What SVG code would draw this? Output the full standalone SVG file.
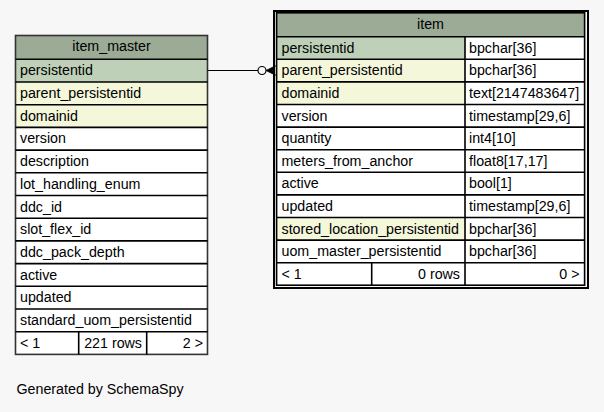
<svg xmlns="http://www.w3.org/2000/svg" width="604" height="412" viewBox="0 0 604 412">
<style>
text{font-family:"Liberation Sans",Arial,Helvetica,sans-serif;font-size:14.25px;fill:#000}
.hd{fill:#9bab96}.pk{fill:#bed1b8}.fk{fill:#f4f7da}.pl{fill:#ffffff}
.ln{stroke:#000;stroke-width:1.6;fill:none}
.mid{text-anchor:middle}.end{text-anchor:end}
</style>
<rect x="0" y="0" width="604" height="412" fill="#f7f7f7"/>
<g id="item_master">
<rect class="hd" x="15.5" y="35" width="192" height="24.3"/>
<rect class="pk" x="15.5" y="59.3" width="192" height="22.7"/>
<rect class="fk" x="15.5" y="82" width="192" height="45.4"/>
<rect class="pl" x="15.5" y="127.4" width="192" height="227"/>
<g class="ln">
<rect x="15.5" y="35.5" width="192" height="318.9" stroke="#333"/>
<path d="M15.5 59.3H207.5M15.5 82H207.5M15.5 104.7H207.5M15.5 127.4H207.5M15.5 150.1H207.5M15.5 172.8H207.5M15.5 195.5H207.5M15.5 218.2H207.5M15.5 240.9H207.5M15.5 263.6H207.5M15.5 286.3H207.5M15.5 309H207.5M15.5 331.7H207.5M78.7 331.7V354.4M146.7 331.7V354.4"/>
</g>
<text class="mid" x="111.5" y="51">item_master</text>
<text x="20" y="75.3">persistentid</text>
<text x="20" y="98">parent_persistentid</text>
<text x="20" y="120.7">domainid</text>
<text x="20" y="143.4">version</text>
<text x="20" y="166.1">description</text>
<text x="20" y="188.8">lot_handling_enum</text>
<text x="20" y="211.5">ddc_id</text>
<text x="20" y="234.2">slot_flex_id</text>
<text x="20" y="256.9">ddc_pack_depth</text>
<text x="20" y="279.6">active</text>
<text x="20" y="302.3">updated</text>
<text x="20" y="325">standard_uom_persistentid</text>
<text x="20" y="347.7">&lt; 1</text>
<text class="end" x="142" y="347.7">221 rows</text>
<text class="end" x="203" y="347.7">2 &gt;</text>
</g>
<g id="item">
<rect class="hd" x="276" y="12" width="309" height="24.7"/>
<rect class="pl" x="276" y="36.7" width="309" height="248.6"/>
<rect class="pk" x="276" y="36.7" width="189" height="22.6"/>
<rect class="fk" x="276" y="59.3" width="189" height="45.2"/>
<rect class="fk" x="276" y="217.5" width="189" height="22.6"/>
<rect x="274" y="11" width="314" height="277" fill="none" stroke="#000" stroke-width="2"/>
<g class="ln">
<rect x="276.6" y="12.8" width="308" height="272.4"/>
<path d="M276 36.7H585M276 59.3H585M276 81.9H585M276 104.5H585M276 127.1H585M276 149.7H585M276 172.3H585M276 194.9H585M276 217.5H585M276 240.1H585M276 262.7H585M465 36.7V285.3M371.7 262.7V285.3"/>
</g>
<text class="mid" x="430.5" y="28.5">item</text>
<text x="281.5" y="52.7">persistentid</text>
<text x="281.5" y="75.3">parent_persistentid</text>
<text x="281.5" y="97.9">domainid</text>
<text x="281.5" y="120.5">version</text>
<text x="281.5" y="143.1">quantity</text>
<text x="281.5" y="165.7">meters_from_anchor</text>
<text x="281.5" y="188.3">active</text>
<text x="281.5" y="210.9">updated</text>
<text x="281.5" y="233.5">stored_location_persistentid</text>
<text x="281.5" y="256.1">uom_master_persistentid</text>
<text x="469" y="52.7">bpchar[36]</text>
<text x="469" y="75.3">bpchar[36]</text>
<text x="469" y="97.9">text[2147483647]</text>
<text x="469" y="120.5">timestamp[29,6]</text>
<text x="469" y="143.1">int4[10]</text>
<text x="469" y="165.7">float8[17,17]</text>
<text x="469" y="188.3">bool[1]</text>
<text x="469" y="210.9">timestamp[29,6]</text>
<text x="469" y="233.5">bpchar[36]</text>
<text x="469" y="256.1">bpchar[36]</text>
<text x="281.5" y="278.7">&lt; 1</text>
<text class="end" x="460" y="278.7">0 rows</text>
<text class="end" x="579.5" y="278.7">0 &gt;</text>
</g>
<g id="connectors">
<path d="M207.5 70.5H258" stroke="#000" stroke-width="1.2" fill="none"/>
<circle cx="262" cy="70.5" r="4" fill="none" stroke="#000" stroke-width="1.2"/>
<path d="M266 70.5L275.5 65.8L272.5 70.5L275.5 75.2Z" fill="#000" stroke="#000" stroke-width="0.8"/>
</g>
<text x="16.5" y="394">Generated by SchemaSpy</text>
</svg>
